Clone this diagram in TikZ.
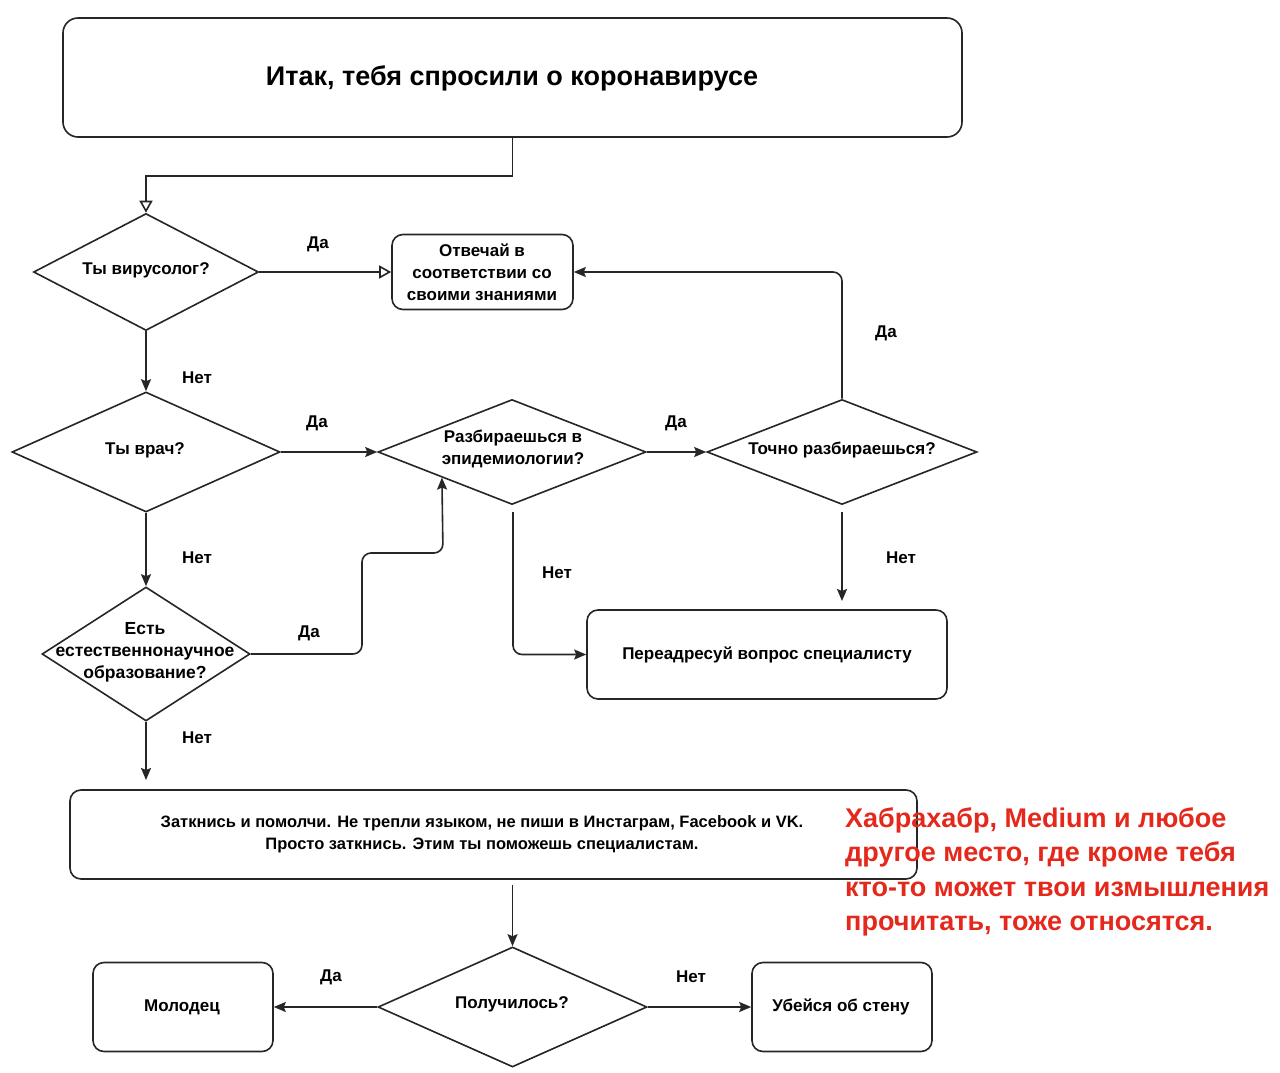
\documentclass[tikz,border=0pt]{standalone}
\usepackage{fontspec}
\setmainfont{Liberation Sans}
\usetikzlibrary{arrows.meta,shapes.geometric,calc}
\definecolor{ln}{HTML}{262626}
\definecolor{redtxt}{HTML}{E5281C}
\begin{document}
\begin{tikzpicture}[x=1pt,y=-1pt,
  box/.style={draw=ln, line width=1.6pt, rounded corners=11pt, rectangle, inner sep=0pt},
  dia/.style={draw=ln, line width=1.6pt, diamond, inner sep=0pt},
  txt/.style={font=\bfseries\fontsize{17}{22}\selectfont, align=center, inner sep=0pt},
  small/.style={font=\bfseries\fontsize{16.5}{22}\selectfont, align=center, inner sep=0pt},
  lbl/.style={font=\bfseries\fontsize{17}{20}\selectfont, inner sep=0pt},
  con/.style={draw=ln, line width=1.6pt, rounded corners=9pt, -{Stealth[length=12pt,width=10pt,inset=2pt]}},
  ocon/.style={draw=ln, line width=1.6pt, -{Triangle[open,length=12pt,width=13pt]}}]
\useasboundingbox (0,0) rectangle (1280,1073);
\fill[white] (0,0) rectangle (1280,1073);

% nodes
\node[box, rounded corners=15pt, minimum width=899pt, minimum height=119pt] (t) at (512.5,77.5) {};
\node[font=\bfseries\fontsize{27}{32}\selectfont] (tt) at (512,78) {Итак, тебя спросили о коронавирусе};

\node[dia, minimum width=225pt, minimum height=117pt] (d1) at (146,272) {};
\node[txt] (d1t) at (146,270) {Ты вирусолог?};

\node[box, minimum width=181pt, minimum height=75pt] (b1) at (482.5,272) {};
\node[txt] (b1t) at (482,272) {Отвечай в\\соответствии со\\своими знаниями};

\node[dia, minimum width=268pt, minimum height=120pt] (d2) at (146,452) {};
\node[txt] (d2t) at (145,450) {Ты врач?};

\node[dia, minimum width=268pt, minimum height=105pt] (d3) at (512,452) {};
\node[txt] (d3t) at (513,449) {Разбираешься в\\эпидемиологии?};

\node[dia, minimum width=270pt, minimum height=105pt] (d4) at (842,452) {};
\node[txt] (d4t) at (842,450) {Точно разбираешься?};

\node[dia, minimum width=208pt, minimum height=134pt] (d5) at (146,654) {};
\node[txt, font=\bfseries\fontsize{17.5}{22}\selectfont] (d5t) at (145,652) {Есть\\естественнонаучное\\образование?};

\node[box, minimum width=360pt, minimum height=89pt] (b2) at (767,654.5) {};
\node[txt] (b2t) at (767,655) {Переадресуй вопрос специалисту};

\node[box, minimum width=847pt, minimum height=89pt] (b3) at (493.5,834.5) {};
\node[small] (b3t) at (482,834) {Заткнись и помолчи. Не трепли языком, не пиши в Инстаграм, Facebook и VK.\\Просто заткнись. Этим ты поможешь специалистам.};

\node[dia, minimum width=269pt, minimum height=120pt] (d6) at (512.5,1007) {};
\node[txt] (d6t) at (512,1004) {Получилось?};

\node[box, minimum width=180pt, minimum height=89pt] (b4) at (183,1007) {};
\node[txt] (b4t) at (182,1007) {Молодец};

\node[box, minimum width=180pt, minimum height=89pt] (b5) at (842,1007) {};
\node[txt] (b5t) at (841,1007) {Убейся об стену};

% helper coordinates
\coordinate (d3in) at ($(d3.west)!0.48!(d3.south)$);
\coordinate (d4s) at (842,512);
\coordinate (b2n) at (842,601);
\coordinate (d3s) at (513,512);
\coordinate (b3s) at (512.5,885);
\coordinate (b3n) at (146,780);

% connectors
\draw[ocon] (t.south) -- ++(0,38) -| (d1.north);
\draw[ocon] (d1.east) -- (b1.west);
\draw[con] (d1.south) -- (d2.north);
\draw[con] (d2.east) -- (d3.west);
\draw[con] (d3.east) -- (d4.west);
\draw[con] (d4.north) |- (b1.east);
\draw[con] (d4s) -- (b2n);
\draw[con] (d3s) |- (b2.west);
\draw[con] (d2.south) -- (d5.north);
\draw[con] (d5.east) -- (362,654) -- (362,553) -- (443,553) -- (d3in);
\draw[con] (d5.south) -- (b3n);
\draw[con] (b3s) -- (d6.north);
\draw[con] (d6.west) -- (b4.east);
\draw[con] (d6.east) -- (b5.west);

% labels
\node[lbl] (l1) at (318,244) {Да};
\node[lbl] (l2) at (197,378) {Нет};
\node[lbl] (l3) at (317,423) {Да};
\node[lbl] (l4) at (676,423) {Да};
\node[lbl] (l5) at (886,333) {Да};
\node[lbl] (l6) at (197,558) {Нет};
\node[lbl] (l7) at (557,573) {Нет};
\node[lbl] (l8) at (901,558) {Нет};
\node[lbl] (l9) at (309,633) {Да};
\node[lbl] (l10) at (197,738) {Нет};
\node[lbl] (l11) at (331,977) {Да};
\node[lbl] (l12) at (691,977) {Нет};

% red note
\node[anchor=north west, inner sep=0pt, align=left, text=redtxt,
  font=\bfseries\fontsize{27}{34.5}\selectfont] (note) at (845,807)
  {Хабрахабр, Medium и любое\\другое место, где кроме тебя\\кто-то может твои измышления\\прочитать, тоже относятся.};
\end{tikzpicture}
\end{document}
